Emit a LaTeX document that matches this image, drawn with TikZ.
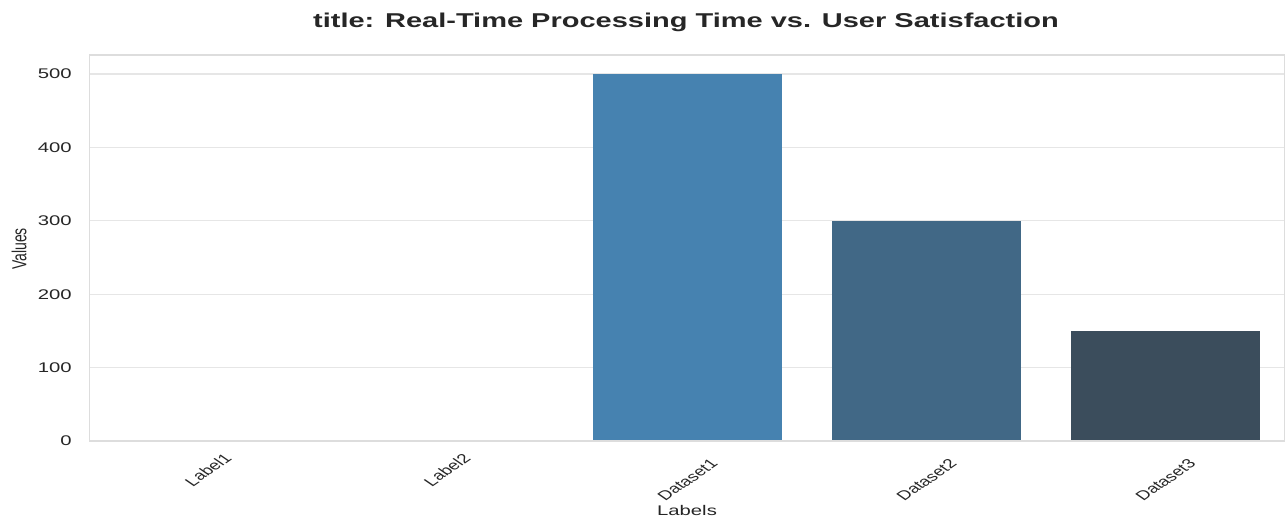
\documentclass[tikz,border=0pt]{standalone}
\usepackage{fontspec}
\setmainfont{Liberation Sans}
\definecolor{txt}{HTML}{262626}
\definecolor{gridc}{HTML}{E6E6E6}
\definecolor{spine}{HTML}{DDDDDD}
\definecolor{barA}{HTML}{4682B0}
\definecolor{barB}{HTML}{416886}
\definecolor{barC}{HTML}{3B4D5C}
\begin{document}
\begin{tikzpicture}[x=1pt,y=-1pt,
  gridline/.style={draw=gridc,line width=1.2pt},
  ytick/.style={anchor=east,inner sep=0pt,text=txt,font=\fontsize{14}{16}\selectfont},
  xtick/.style={anchor=center,inner sep=0pt,rotate=45,text=txt,font=\fontsize{13}{15}\selectfont},
  axlabel/.style={inner sep=0pt,text=txt,font=\fontsize{14}{16}\selectfont}]
\useasboundingbox (0,0) rectangle (1285,517);
% grid
\foreach \yy in {367.6,294.2,220.8,147.4,74}{
  \draw[gridline] (89.5,\yy) -- (1285,\yy);
}
% bars
\fill[barA] (593,441) rectangle (782,74);
\fill[barB] (832,441) rectangle (1021,220.8);
\fill[barC] (1071,441) rectangle (1260,330.9);
% frame
\draw[draw=spine,line width=1.5pt] (89.5,55) rectangle (1284.3,441);
% texts, stretched horizontally like the reference
\begin{scope}[xscale=1.45,transform shape]
\foreach \v/\yy in {0/441,100/367.6,200/294.2,300/220.8,400/147.4,500/74}{
  \node[ytick] (yt\v) at ({72/1.45},\yy) {\v};
}
\node[xtick] (l1) at ({208/1.45},470) {Label1};
\node[xtick] (l2) at ({447/1.45},470) {Label2};
\node[xtick] (d1) at ({687.5/1.45},480) {Dataset1};
\node[xtick] (d2) at ({926.5/1.45},480) {Dataset2};
\node[xtick] (d3) at ({1165.5/1.45},480) {Dataset3};
\node[axlabel] (xl) at ({687/1.45},510) {Labels};
\node[axlabel,rotate=90] (yl) at ({19/1.45},249) {Values};
\node[inner sep=0pt,text=txt,font=\fontsize{20}{24}\selectfont\bfseries] (title) at ({686/1.45},22) {title: Real-Time Processing Time vs. User Satisfaction};
\end{scope}
\end{tikzpicture}
\end{document}
